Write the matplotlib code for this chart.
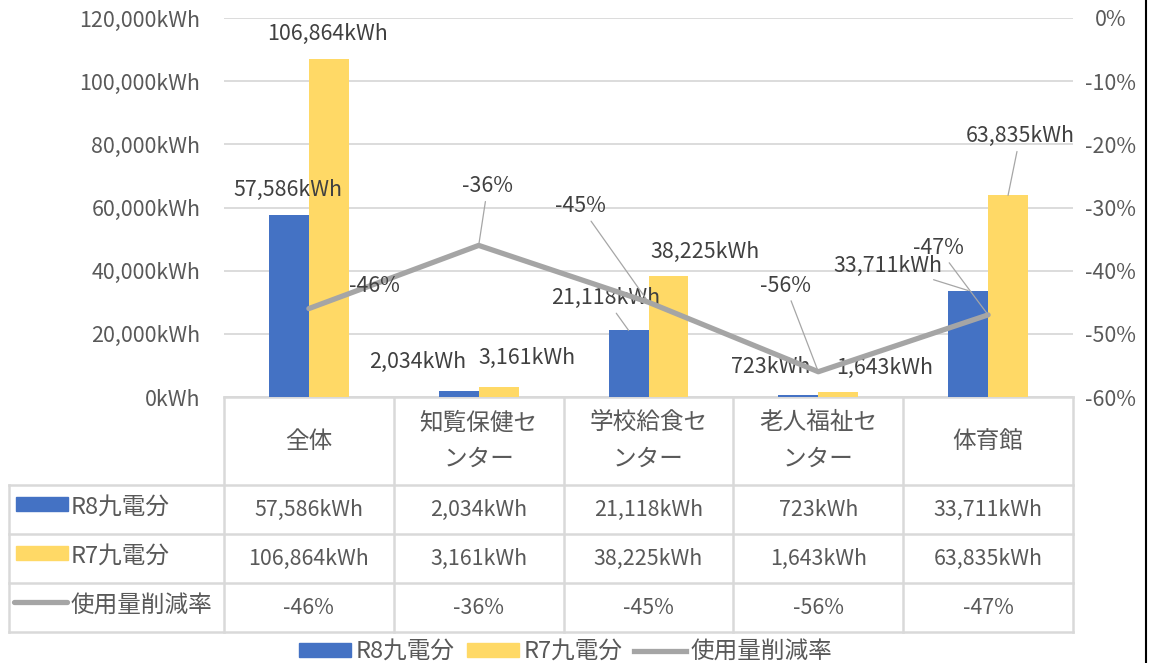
import matplotlib.pyplot as plt
from matplotlib.lines import Line2D
from matplotlib.patches import Rectangle

plt.rcParams['font.family'] = ['Noto Sans CJK JP', 'DejaVu Sans']

# data
categories = ['全体', '知覧保健セ\nンター', '学校給食セ\nンター', '老人福祉セ\nンター', '体育館']
r8_kwh = [57586, 2034, 21118, 723, 33711]
r7_kwh = [106864, 3161, 38225, 1643, 63835]
reduction_pct = [-46, -36, -45, -56, -47]
series_names = ['R8九電分', 'R7九電分', '使用量削減率']

BLUE = '#4472C4'
YELLOW = '#FFD966'
GRAY = '#A5A5A5'
TXT = '#595959'
GRID = '#D9D9D9'
FS = 15.4     # numbers
FSJ = 17      # japanese text

W, H = 1152, 663
fig = plt.figure(figsize=(W / 100, H / 100), dpi=100)

# overlay in pixel coordinates for the data table
ov = fig.add_axes([0, 0, 1, 1])
ov.set_xlim(0, W)
ov.set_ylim(H, 0)
ov.axis('off')

X0, X1, Y0, Y1 = 224, 1073, 18, 397
ax = fig.add_axes([X0 / W, 1 - Y1 / H, (X1 - X0) / W, (Y1 - Y0) / H])
ax.patch.set_visible(False)
ax2 = ax.twinx()

xs = list(range(len(categories)))
bw = 0.235
ax.bar([x - bw / 2 for x in xs], r8_kwh, bw, color=BLUE, zorder=2)
ax.bar([x + bw / 2 for x in xs], r7_kwh, bw, color=YELLOW, zorder=2)
ax.set_xlim(-0.5, len(categories) - 0.5)
ax.set_ylim(0, 120000)
ax.set_yticks(range(0, 120001, 20000))
ax.yaxis.set_major_formatter(lambda v, p: f'{int(v):,}kWh')
ax.tick_params(axis='y', length=0, pad=17, labelsize=FS, labelcolor=TXT)
ax.set_xticks([])
ax.grid(axis='y', color=GRID, lw=1.3)
ax.set_axisbelow(True)
for s in ax.spines.values():
    s.set_visible(False)

ax2.plot(xs, reduction_pct, color=GRAY, lw=3.8, solid_capstyle='round',
         solid_joinstyle='round', zorder=3)
ax2.set_ylim(-60, 0)
ax2.set_yticks(range(-60, 1, 10))
ax2.yaxis.set_major_formatter(lambda v, p: f'{int(v)}%')
ax2.tick_params(axis='y', length=0, pad=27, labelsize=FS, labelcolor=TXT)
plt.setp(ax2.get_yticklabels(), ha='center')
for s in ax2.spines.values():
    s.set_visible(False)

# data labels (offsets in pixels, leader line or not)
lead = dict(arrowstyle='-', color='#A6A6A6', lw=0.9, shrinkA=1, shrinkB=0)
r8_off = [(-1, 25, False), (-41, 29, False), (-23, 32, True), (-28, 28, False), (-80, 25, True)]
r7_off = [(-1, 26, False), (28, 29, False), (37, 24, False), (46, 24, False), (12, 59, True)]
pct_off = [(66, 23, True), (9, 59, True), (-68, 96, True), (-33, 86, True), (-50, 67, True)]

for i, x in enumerate(xs):
    for vals, offs, dx in ((r8_kwh, r8_off, -bw / 2), (r7_kwh, r7_off, bw / 2)):
        ox, oy, ld = offs[i]
        ax.annotate(f'{vals[i]:,}kWh', (x + dx, vals[i]), xytext=(ox, oy),
                    textcoords='offset pixels', ha='center', va='center',
                    fontsize=FS, color='#404040', zorder=5,
                    arrowprops=lead if ld else None)
    ox, oy, ld = pct_off[i]
    ax2.annotate(f'{reduction_pct[i]}%', (x, reduction_pct[i]), xytext=(ox, oy),
                 textcoords='offset pixels', ha='center', va='center',
                 fontsize=FS, color='#404040', zorder=5,
                 arrowprops=lead if ld else None)

# data table
cw = (X1 - X0) / len(categories)
col_edges = [X0 + i * cw for i in range(len(categories) + 1)]
row_edges = [485, 534, 583, 632]
LX = 9
tl = dict(color=GRID, lw=1.8)
ov.plot([X0, X1], [Y1, Y1], **tl)
for y in row_edges:
    ov.plot([LX, X1], [y, y], **tl)
for x in col_edges:
    ov.plot([x, x], [Y1, row_edges[-1]], **tl)
ov.plot([LX, LX], [row_edges[0], row_edges[-1]], **tl)

for i, c in enumerate(categories):
    cx = X0 + (i + 0.5) * cw
    ov.text(cx, 441, c, ha='center', va='center', fontsize=FSJ, color=TXT, linespacing=1.75)
    row_texts = [f'{r8_kwh[i]:,}kWh', f'{r7_kwh[i]:,}kWh', f'{reduction_pct[i]}%']
    for r, t in enumerate(row_texts):
        cy = (row_edges[r] + row_edges[r + 1]) / 2
        ov.text(cx, cy, t, ha='center', va='center', fontsize=FS, color=TXT)

ov.add_patch(Rectangle((16, 497), 52, 14, color=BLUE))
ov.add_patch(Rectangle((16, 546), 52, 14, color=YELLOW))
ov.plot([14, 67], [602, 602], color=GRAY, lw=3.8, solid_capstyle='round')
for r, name in enumerate(series_names):
    cy = (row_edges[r] + row_edges[r + 1]) / 2 - 1
    ov.text(71, cy, name, ha='left', va='center', fontsize=FSJ, color=TXT)

# right border line
ov.plot([1146, 1146], [0, H], color='black', lw=1.5)

handles = [Rectangle((0, 0), 1, 1, color=BLUE), Rectangle((0, 0), 1, 1, color=YELLOW),
           Line2D([], [], color=GRAY, lw=3.8)]
fig.legend(handles, series_names, loc='center', bbox_to_anchor=(566 / W, 1 - 652 / H),
           ncol=3, frameon=False, fontsize=FSJ, labelcolor=TXT, handlelength=2.2,
           handleheight=0.55, handletextpad=0.2, columnspacing=0.5, borderpad=0)

fig.savefig('out.png', dpi=100)
